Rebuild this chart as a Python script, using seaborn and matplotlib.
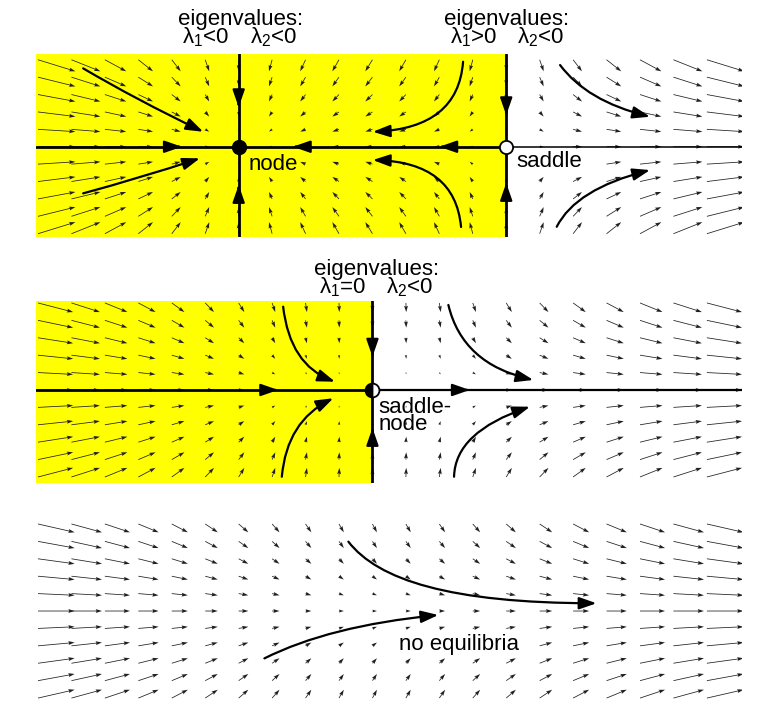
import numpy as np
import pandas as pd
import seaborn as sns
import matplotlib
matplotlib.use("Agg")
import matplotlib.pyplot as plt
from matplotlib.path import Path
from matplotlib.patches import FancyArrowPatch, ArrowStyle

sns.set_theme(style="white")
plt.rcParams["font.family"] = ["Liberation Sans", "DejaVu Sans"]
plt.rcParams["text.color"] = "black"
plt.rcParams["mathtext.fontset"] = "custom"
plt.rcParams["mathtext.rm"] = "Liberation Sans"
plt.rcParams["mathtext.it"] = "Liberation Sans"
plt.rcParams["mathtext.bf"] = "Liberation Sans:bold"

# ---------------- data ----------------
grid_x = [-1.0, -0.9, -0.8, -0.7, -0.6, -0.5, -0.4, -0.3, -0.2, -0.1, 0.0,
          0.1, 0.2, 0.3, 0.4, 0.5, 0.6, 0.7, 0.8, 0.9, 1.0]
grid_y = [1.0, 0.8, 0.6, 0.4, 0.2, 0.0, -0.2, -0.4, -0.6, -0.8, -1.0]
# vertical component of arrows, one value per row
flow_v = [-1.0, -0.8, -0.6, -0.4, -0.2, 0.0, 0.2, 0.4, 0.6, 0.8, 1.0]
# horizontal component of arrows, one value per column
flow_u_node_saddle = [0.84, 0.65, 0.48, 0.33, 0.20, 0.09, 0.0, -0.07, -0.12, -0.15, -0.16,
                      -0.15, -0.12, -0.07, 0.0, 0.09, 0.20, 0.33, 0.48, 0.65, 0.84]
flow_u_saddle_node = [1.0, 0.81, 0.64, 0.49, 0.36, 0.25, 0.16, 0.09, 0.04, 0.01, 0.0,
                      0.01, 0.04, 0.09, 0.16, 0.25, 0.36, 0.49, 0.64, 0.81, 1.0]
flow_u_no_eq = [1.14, 0.95, 0.78, 0.63, 0.50, 0.39, 0.30, 0.23, 0.18, 0.15, 0.14,
                0.15, 0.18, 0.23, 0.30, 0.39, 0.50, 0.63, 0.78, 0.95, 1.14]

node_x = -0.4
saddle_x = 0.4
saddle_node_x = 0.0

# trajectories (quadratic / cubic Bezier control points)
traj_node_saddle = [
    [(-0.865, 0.901), (-0.704, 0.537), (-0.506, 0.172)],
    [(-0.865, -0.536), (-0.695, -0.360), (-0.516, -0.133)],
    [(0.271, 0.977), (0.256, 0.214), (0.001, 0.172)],
    [(0.265, -0.923), (0.247, -0.176), (0.001, -0.153)],
    [(0.561, 0.939), (0.641, 0.525), (0.830, 0.345)],
    [(0.551, -0.920), (0.608, -0.486), (0.830, -0.268)],
]
traj_saddle_node = [
    [(-0.267, 0.957), (-0.247, 0.287), (-0.112, 0.095)],
    [(-0.271, -0.997), (-0.256, -0.356), (-0.117, -0.095)],
    [(0.227, 0.977), (0.269, 0.299), (0.481, 0.115)],
    [(0.244, -0.997), (0.247, -0.483), (0.471, -0.192)],
]
traj_no_eq = [
    [(-0.072, 0.797), (0.017, 0.356), (0.232, 0.092), (0.670, 0.089)],
    [(-0.323, -0.544), (-0.130, -0.171), (0.197, -0.046)],
]

# arrowheads on separatrices: (tip x, tip y, dx, dy)
heads_node_saddle = [(-0.57, 0.0, 1, 0), (-0.238, 0.0, -1, 0), (0.20, 0.0, -1, 0),
                     (-0.4, 0.455, 0, -1), (-0.4, -0.44, 0, 1),
                     (0.4, 0.363, 0, -1), (0.4, -0.417, 0, 1)]
heads_saddle_node = [(-0.282, 0.0, 1, 0), (0.291, 0.0, 1, 0),
                     (0.0, 0.383, 0, -1), (0.0, -0.437, 0, 1)]

# header texts: (x centre, baseline y, text)
headers_p1 = [(-0.395, 1.40, "eigenvalues:"),
              (-0.498, 1.187, r"$\lambda_1$<0"),
              (-0.296, 1.187, r"$\lambda_2$<0"),
              (0.401, 1.40, "eigenvalues:"),
              (0.302, 1.187, r"$\lambda_1$>0"),
              (0.501, 1.187, r"$\lambda_2$<0")]
headers_p2 = [(0.0125, 1.322, "eigenvalues:"),
              (-0.09, 1.111, r"$\lambda_1$=0"),
              (0.112, 1.111, r"$\lambda_2$<0")]

XLIM = (-1.006, 1.105)
YELLOW = "#ffff00"

fig = plt.figure(figsize=(7.75, 7.24), dpi=100)
ax1 = fig.add_axes([36 / 775, 0.6731, 0.91097, 0.2523])
ax2 = fig.add_axes([36 / 775, 0.3325, 0.91097, 0.2522])
ax3 = fig.add_axes([36 / 775, 0.0298, 0.91097, 0.2525])
ylims = [(-1.034, 1.066), (-1.072, 1.026), (-1.05, 1.05)]
arrow_scale = [0.133, 0.105, 0.096]
flows = [flow_u_node_saddle, flow_u_saddle_node, flow_u_no_eq]

XX, YY = np.meshgrid(grid_x, grid_y)
head_style = ArrowStyle("-|>", head_length=0.8, head_width=0.28)

for ax, ylim, s, fu in zip([ax1, ax2, ax3], ylims, arrow_scale, flows):
    ax.set_xlim(*XLIM)
    ax.set_ylim(*ylim)
    ax.axis("off")
    U, V = np.meshgrid(fu, flow_v)
    ax.quiver(XX, YY, U, V, angles="xy", scale_units="xy", scale=1 / s,
              width=0.0011, headwidth=5, headlength=8, headaxislength=7,
              minlength=0, color="#202020", zorder=3)


def curve(ax, pts):
    if len(pts) == 3:
        codes = [Path.MOVETO, Path.CURVE3, Path.CURVE3]
    else:
        codes = [Path.MOVETO, Path.CURVE4, Path.CURVE4, Path.CURVE4]
    p = FancyArrowPatch(path=Path(pts, codes), arrowstyle=head_style,
                        mutation_scale=13, lw=1.6, color="black", zorder=5,
                        transform=ax.transData)
    ax.add_patch(p)


def head(ax, tip):
    x, y, dx, dy = tip
    ax.annotate("", xy=(x, y), xytext=(x - dx * 0.012, y - dy * 0.04),
                arrowprops=dict(arrowstyle=head_style, mutation_scale=13, lw=1.6,
                                color="black", shrinkA=0, shrinkB=0), zorder=6)


def sep_line(ax, xs, ys, lw):
    df = pd.DataFrame({"x": xs, "y": ys})
    sns.lineplot(data=df, x="x", y="y", ax=ax, color="black", lw=lw,
                 sort=False, estimator=None, zorder=4)
    ax.set_xlabel("")
    ax.set_ylabel("")


def label(ax, x, y, s, bg=None):
    kw = {}
    if bg is not None:
        kw["bbox"] = dict(facecolor=bg, edgecolor="none", pad=0.6)
    ax.text(x, y, s, fontsize=16, ha="left", va="baseline", zorder=9, **kw)


def header(ax, x, y, s):
    ax.text(x, y, s, fontsize=16, ha="center", va="baseline", clip_on=False)


# ---------------- panel 1: node and saddle ----------------
ax1.axvspan(XLIM[0], saddle_x, color=YELLOW, zorder=0, lw=0)
sep_line(ax1, [XLIM[0], saddle_x], [0, 0], 2.0)
sep_line(ax1, [saddle_x, XLIM[1]], [0, 0], 1.1)
sep_line(ax1, [node_x, node_x], list(ylims[0]), 2.0)
sep_line(ax1, [saddle_x, saddle_x], list(ylims[0]), 2.0)
for pts in traj_node_saddle:
    curve(ax1, pts)
for t in heads_node_saddle:
    head(ax1, t)
ax1.plot([node_x], [0], "o", ms=10, color="black", zorder=10)
ax1.plot([saddle_x], [0], "o", ms=9.5, mfc="white", mec="black", mew=1.3, zorder=10)
label(ax1, -0.371, -0.268, "node", YELLOW)
label(ax1, 0.429, -0.23, "saddle", "white")
for x, y, s in headers_p1:
    header(ax1, x, y, s)

# ---------------- panel 2: saddle-node ----------------
ax2.axvspan(XLIM[0], saddle_node_x, color=YELLOW, zorder=0, lw=0)
sep_line(ax2, [XLIM[0], saddle_node_x], [0, 0], 2.0)
sep_line(ax2, [saddle_node_x, XLIM[1]], [0, 0], 1.6)
sep_line(ax2, [saddle_node_x, saddle_node_x], list(ylims[1]), 2.0)
for pts in traj_saddle_node:
    curve(ax2, pts)
for t in heads_saddle_node:
    head(ax2, t)
ax2.plot([saddle_node_x], [0], "o", ms=10, fillstyle="left", mfc="black",
         mfcalt="white", mec="black", mew=1.3, zorder=10)
label(ax2, 0.017, -0.268, "saddle-")
label(ax2, 0.017, -0.46, "node")
for x, y, s in headers_p2:
    header(ax2, x, y, s)

# ---------------- panel 3: no equilibria ----------------
for pts in traj_no_eq:
    curve(ax3, pts)
label(ax3, 0.080, -0.45, "no equilibria", "white")

fig.savefig("out.png", dpi=100, facecolor="white")
